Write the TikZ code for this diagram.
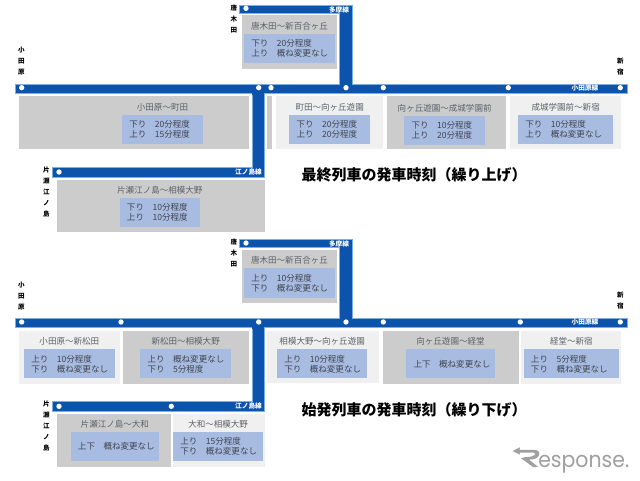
\documentclass[tikz,border=0pt]{standalone}
\usepackage{fontspec}
\setmainfont{Noto Sans CJK JP}
\newfontfamily\logofont{Poppins}
\definecolor{railblue}{HTML}{0B53AB}
\definecolor{railedge}{HTML}{7FAEE0}
\definecolor{secdark}{HTML}{CCCCCC}
\definecolor{seclight}{HTML}{F0F0F0}
\definecolor{secinner}{HTML}{A8BBE1}
\definecolor{sectext}{HTML}{3F444F}
\definecolor{logogrey}{HTML}{A0A0A0}
\tikzset{
  x=0.75pt,y=-0.75pt,
  rail/.style={fill=railblue,draw=railedge,line width=0.4pt},
  stationdot/.style={circle,fill=white,inner sep=0pt,minimum size=4pt},
  dark/.style={fill=secdark},
  light/.style={fill=seclight},
  inner/.style={fill=secinner},
  sectitle/.style={font=\fontsize{6.4}{7.5}\selectfont,text=sectext!85!white,inner sep=0pt},
  sectimes/.style={font=\fontsize{6.4}{7.5}\selectfont,text=sectext,inner sep=0pt,anchor=west,align=left},
  stationlabel/.style={font=\fontsize{4.9}{8.2}\selectfont\bfseries,text=black,inner sep=0pt,align=center,anchor=north},
  linelabel/.style={font=\fontsize{5}{6}\selectfont\bfseries,text=white,inner sep=0pt},
  headline/.style={font=\fontsize{11.25}{14}\selectfont\bfseries,text=black,inner sep=0pt},
}
% style, outer x1,y1,x2,y2, inner x1,y1,x2,y2, name, title, times
\newcommand{\sect}[7]{%
  \fill[#1] (#2) rectangle (#3);
  \fill[inner] (#4) rectangle (#5);
  \path let \p1=(#4),\p2=(#5) in
    node[sectitle] (#6t) at ({0.5*(\x1+\x2)},{\y1+6pt}) {#6}
    node[sectimes] (#6b) at ({\x1+5.25pt},{0.5*(\y1+\y2)}) {#7};
}
\usetikzlibrary{calc}
\begin{document}
\begin{tikzpicture}
\useasboundingbox (0,0) rectangle (640,480);
\fill[white] (0,0) rectangle (640,480);

% ===== upper network =====
\draw[rail] (239.5,5)--(352,5)--(352,84)--(627,84)--(627,93)--(15,93)--(15,84)--(339,84)--(339,13.5)--(239.5,13.5)--cycle;
\draw[rail] (252,93)--(264.5,93)--(264.5,177)--(52,177)--(52,167.5)--(252,167.5)--cycle;
\fill[railblue] (252.3,92) rectangle (264.2,94.5);
\foreach \n/\p in {ua/{21.7,87.7},ub/{258.7,87.7},uc/{271,87.7},ud/{346,87.7},ue/{383.3,87.7},uf/{508.3,87.7},ug/{620.3,87.7},uh/{246,8.3},ui/{59,172}}
  \node[stationdot] (\n) at (\p) {};

\sect{dark}{19,96.3}{249.3,149}{122,115}{203,144}{小田原〜町田}{下り　20分程度\\上り　15分程度}
\fill[dark] (267,96.3) rectangle (272.3,149);
\sect{light}{275.7,96.3}{382.7,149}{289.3,115}{370,144}{町田〜向ヶ丘遊園}{下り　20分程度\\上り　20分程度}
\sect{dark}{386.7,96.3}{506,149}{404.3,116}{485,145}{向ヶ丘遊園〜成城学園前}{下り　10分程度\\上り　20分程度}
\sect{light}{509.7,96.3}{621,149}{518,115}{613.3,144}{成城学園前〜新宿}{下り　10分程度\\上り　概ね変更なし}
\sect{dark}{242,15.3}{337.3,68.7}{244,34}{335,63.3}{唐木田〜新百合ヶ丘}{下り　20分程度\\上り　概ね変更なし}
\sect{dark}{56.7,180}{265,232}{119.7,198.3}{200,227}{片瀬江ノ島〜相模大野}{下り　10分程度\\上り　10分程度}

\node[stationlabel] (u1) at (21.3,47) {小\\田\\原};
\node[stationlabel] (u2) at (234,5) {唐\\木\\田};
\node[stationlabel] (u3) at (46.3,167) {片\\瀬\\江\\ノ\\島};
\node[stationlabel] (u4) at (620.3,58) {新\\宿};
\node[linelabel] (u5) at (339,9.5) {多摩線};
\node[linelabel] (u6) at (585,88) {小田原線};
\node[linelabel] (u7) at (248.5,172) {江ノ島線};
\node[headline] (u8) at (414,175) {最終列車の発車時刻（繰り上げ）};

% ===== lower network =====
\begin{scope}[shift={(0,234)}]
\draw[rail] (239.5,5)--(352,5)--(352,84)--(627,84)--(627,93)--(15,93)--(15,84)--(339,84)--(339,13.5)--(239.5,13.5)--cycle;
\draw[rail] (252,93)--(264.5,93)--(264.5,177)--(52,177)--(52,167.5)--(252,167.5)--cycle;
\fill[railblue] (252.3,92) rectangle (264.2,94.5);
\end{scope}
\foreach \n/\p in {la/{21.7,322},lb/{121,322},lc/{258.7,322},ld/{346,322},le/{383.3,322},lf/{520.3,322},lg/{620.3,322},lh/{246,243},li/{59,406.3},lj/{171.3,406.3}}
  \node[stationdot] (\n) at (\p) {};

\sect{light}{19,331.3}{120,384}{24,349.3}{114.7,378.3}{小田原〜新松田}{上り　10分程度\\下り　概ね変更なし}
\sect{dark}{123,331}{249.3,384}{140.3,349.3}{231,378.3}{新松田〜相模大野}{上り　概ね変更なし\\下り　5分程度}
\sect{light}{267,331}{379,383}{277,349.3}{367.3,378.3}{相模大野〜向ヶ丘遊園}{上り　10分程度\\下り　概ね変更なし}
\sect{dark}{382.7,331}{518.7,383.5}{406.3,349.3}{494.7,378.3}{向ヶ丘遊園〜経堂}{上下　概ね変更なし}
\sect{light}{521,331}{621,383.5}{523.7,349.3}{619,378.3}{経堂〜新宿}{上り　5分程度\\下り　概ね変更なし}
\sect{dark}{242,249.7}{337.3,303}{244,268.3}{335,297.7}{唐木田〜新百合ヶ丘}{上り　10分程度\\下り　概ね変更なし}
\sect{dark}{56.7,414}{170.7,466.7}{70.7,432}{159,461.3}{片瀬江ノ島〜大和}{上下　概ね変更なし}
\sect{light}{173,414}{265,467}{173,432}{263.3,461.3}{大和〜相模大野}{上り　15分程度\\下り　概ね変更なし}

\node[stationlabel] (l1) at (21.3,281.5) {小\\田\\原};
\node[stationlabel] (l2) at (234,239) {唐\\木\\田};
\node[stationlabel] (l3) at (46.3,401) {片\\瀬\\江\\ノ\\島};
\node[stationlabel] (l4) at (620.3,292) {新\\宿};
\node[linelabel] (l5) at (339,243.5) {多摩線};
\node[linelabel] (l6) at (585,322) {小田原線};
\node[linelabel] (l7) at (248.5,406) {江ノ島線};
\node[headline] (l8) at (414,410) {始発列車の発車時刻（繰り下げ）};

% ===== logo =====
\fill[logogrey] (512.7,451)--(520,447.3)--(519.5,449.8)--(532,449.8)
  .. controls (539,449.8) and (540,452) .. (539,455)
  .. controls (538,458.5) and (534,459.3) .. (529,459.6)
  --(538,466.8)--(533.5,467.2)--(521,458.2)--(525,457.2)
  .. controls (531,457) and (535,456) .. (535.2,454)
  .. controls (535.4,452.8) and (534,452.5) .. (531,452.5)
  --(519.5,452.5)--(520,454.7)--cycle;
\node[font=\logofont\fontsize{16.5}{18}\selectfont,text=logogrey,inner sep=0pt,anchor=base west,xscale=0.93] (logo) at (538,467.5) {esponse.};
\end{tikzpicture}
\end{document}
